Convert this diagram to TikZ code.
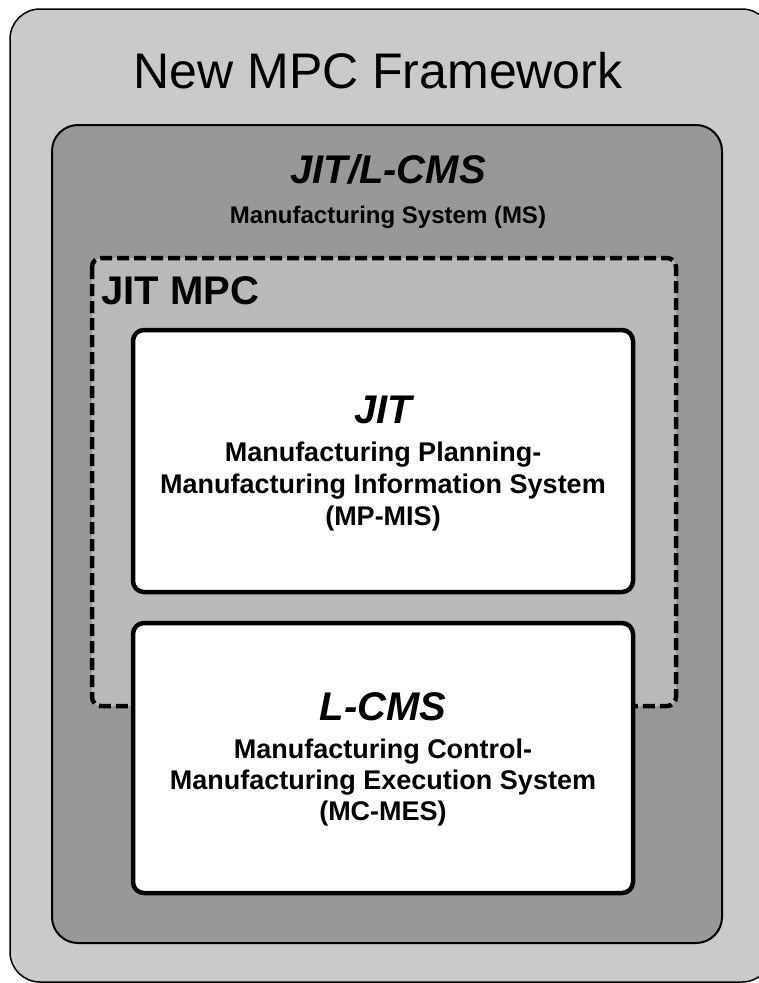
\documentclass[tikz,border=0pt]{standalone}
\usepackage{fontspec}
\setmainfont{Liberation Sans}
\definecolor{frameworkfill}{RGB}{202,202,202}
\definecolor{msfill}{RGB}{152,152,152}
\definecolor{mpcfill}{RGB}{186,186,186}
\tikzset{
  framebox/.style={draw=black, line width=1.5pt, fill=frameworkfill, rounded corners=30pt},
  msbox/.style={draw=black, line width=2pt, fill=msfill, rounded corners=26pt},
  mpcbox/.style={draw=black, line width=4.5pt, fill=mpcfill, rounded corners=9pt, dash pattern=on 12pt off 5pt},
  sysbox/.style={draw=black, line width=4.5pt, fill=white, rounded corners=11pt},
  txt/.style={inner sep=0pt, anchor=base, text=black},
  bigtitle/.style={txt, font=\fontsize{50}{60}\selectfont},
  heading/.style={txt, font=\fontsize{40}{48}\selectfont\bfseries\itshape},
  plainhead/.style={txt, font=\fontsize{40}{48}\selectfont\bfseries},
  subline/.style={txt, font=\fontsize{24}{29}\selectfont\bfseries},
  bodyline/.style={txt, font=\fontsize{27}{32}\selectfont\bfseries}
}
\begin{document}
\begin{tikzpicture}[x=1pt, y=-1pt]
  \useasboundingbox (0,0) rectangle (759,983);
  \clip (0,0) rectangle (759,983);

  % nested frames
  \draw[framebox] (10,9) rectangle (772,982);
  \draw[msbox] (52,125) rectangle (722,943);
  \draw[mpcbox] (92,258) rectangle (676,706);
  \draw[sysbox] (133,330) rectangle (633,592);
  \draw[sysbox] (133,623) rectangle (633,893);

  % framework title
  \node[bigtitle] (title) at (378,88) {New MPC Framework};

  % manufacturing system
  \node[heading] (mshead) at (388,183) {JIT/L-CMS};
  \node[subline] (msname) at (388,223) {Manufacturing System (MS)};

  % JIT MPC region
  \node[plainhead, anchor=base west] (mpchead) at (101,304) {JIT MPC};

  % planning system
  \node[heading] (jithead) at (383,423) {JIT};
  \node[bodyline] (jitA) at (383,461) {Manufacturing Planning-};
  \node[bodyline] (jitB) at (383,493) {Manufacturing Information System};
  \node[bodyline] (jitC) at (383,525) {(MP-MIS)};

  % control system
  \node[heading] (lcmshead) at (383,720) {L-CMS};
  \node[bodyline] (lcmsA) at (383,758) {Manufacturing Control-};
  \node[bodyline] (lcmsB) at (383,789) {Manufacturing Execution System};
  \node[bodyline] (lcmsC) at (383,820) {(MC-MES)};
\end{tikzpicture}
\end{document}
